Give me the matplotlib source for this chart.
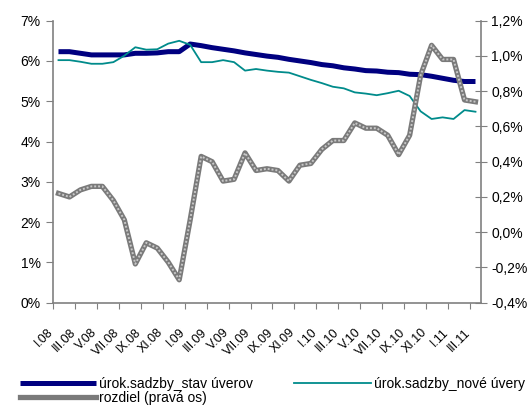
import matplotlib
matplotlib.use("Agg")
import matplotlib.pyplot as plt
from matplotlib.transforms import ScaledTranslation
import numpy as np

plt.rcParams['font.family'] = ['Liberation Sans', 'DejaVu Sans']

# mesiace I.08 .. III.11
mesiace = ['I.08', 'II.08', 'III.08', 'IV.08', 'V.08', 'VI.08', 'VII.08', 'VIII.08', 'IX.08', 'X.08', 'XI.08', 'XII.08',
           'I.09', 'II.09', 'III.09', 'IV.09', 'V.09', 'VI.09', 'VII.09', 'VIII.09', 'IX.09', 'X.09', 'XI.09', 'XII.09',
           'I.10', 'II.10', 'III.10', 'IV.10', 'V.10', 'VI.10', 'VII.10', 'VIII.10', 'IX.10', 'X.10', 'XI.10', 'XII.10',
           'I.11', 'II.11', 'III.11']

stav_uverov = [6.23, 6.23, 6.19, 6.15, 6.15, 6.15, 6.15, 6.19, 6.19, 6.20, 6.23, 6.23,
               6.42, 6.38, 6.33, 6.29, 6.25, 6.20, 6.16, 6.12, 6.09, 6.04, 6.00, 5.96,
               5.91, 5.88, 5.83, 5.80, 5.76, 5.75, 5.72, 5.71, 5.67, 5.66, 5.62, 5.57,
               5.52, 5.49, 5.49]

nove_uvery = [6.02, 6.02, 5.98, 5.93, 5.93, 5.97, 6.13, 6.34, 6.28, 6.29, 6.43, 6.50,
              6.40, 5.97, 5.97, 6.02, 5.97, 5.76, 5.80, 5.76, 5.73, 5.71, 5.62, 5.53,
              5.45, 5.36, 5.32, 5.22, 5.19, 5.15, 5.20, 5.26, 5.13, 4.75, 4.56, 4.60,
              4.56, 4.78, 4.74]

rozdiel = [0.22, 0.20, 0.24, 0.26, 0.26, 0.18, 0.07, -0.18, -0.06, -0.09, -0.17, -0.27,
           0.07, 0.43, 0.40, 0.29, 0.30, 0.45, 0.35, 0.36, 0.35, 0.29, 0.38, 0.39,
           0.47, 0.52, 0.52, 0.62, 0.59, 0.59, 0.55, 0.44, 0.55, 0.89, 1.06, 0.98,
           0.98, 0.75, 0.74]

sediva = '#808080'
x = np.arange(len(mesiace))

fig = plt.figure(figsize=(5.30, 4.13), dpi=100)
ax = fig.add_axes([0.100, 0.267, 0.8075, 0.683])
ax2 = ax.twinx()

l1, = ax.plot(x, stav_uverov, color='#000080', lw=3.6, solid_capstyle='butt', zorder=3)
l2, = ax.plot(x, nove_uvery, color='#008B8B', lw=1.3, zorder=3)
l3, = ax2.plot(x, rozdiel, color='#7a7a7a', lw=3.8, zorder=2)
ax2.plot(x, rozdiel, color='#c8c8c8', lw=1.4, linestyle=(0, (1, 1)), zorder=2)

ax.set_xlim(-0.5, len(mesiace) - 0.5)
ax.set_ylim(0, 7)
ax.set_yticks(np.arange(0, 8, 1))
ax.set_yticklabels(['%d%%' % v for v in range(8)])
ax2.set_ylim(-0.4, 1.2)
pravo = np.arange(-0.4, 1.21, 0.2)
ax2.set_yticks(pravo)
ax2.set_yticklabels([('%.1f%%' % v).replace('.', ',').replace('-0,0', '0,0') for v in pravo])

# tick marks on category boundaries, labels on every other month
ax.set_xticks(np.arange(-0.5, len(mesiace) - 0.5, 2))
ax.set_xticklabels([])
ax.set_xticks(x[::2], minor=True)
ax.set_xticklabels(mesiace[::2], minor=True, rotation=45, ha='right', va='top',
                   rotation_mode='anchor', fontsize=9)
ax.tick_params(axis='x', which='minor', length=0, pad=17)
ax.tick_params(axis='x', which='major', direction='out', length=4, color=sediva)
for lab in ax.get_xticklabels(minor=True):
    lab.set_transform(lab.get_transform() + ScaledTranslation(-0.11, 0, fig.dpi_scale_trans))

ax.tick_params(axis='y', direction='out', length=5, color=sediva, labelsize=10, pad=4)
ax2.tick_params(axis='y', direction='inout', length=9, color=sediva, labelsize=10, pad=3)

for a in (ax, ax2):
    a.spines['top'].set_visible(False)
    for s in ('left', 'right', 'bottom'):
        a.spines[s].set_color(sediva)
        a.spines[s].set_linewidth(1.2)
ax.spines['right'].set_visible(False)
ax2.spines['left'].set_visible(False)
ax2.spines['bottom'].set_visible(False)

# column-first fill: stav, rozdiel | nove
leg = fig.legend([l1, l3, l2], ['úrok.sadzby_stav úverov', 'rozdiel (pravá os)', 'úrok.sadzby_nové úvery'],
                 loc='upper left', bbox_to_anchor=(0.037, 0.088), ncol=2, frameon=False,
                 fontsize=10, handlelength=5.5, handletextpad=0.2, columnspacing=3.0,
                 labelspacing=0.05, borderaxespad=0, borderpad=0)

fig.savefig('out.png', dpi=100)
